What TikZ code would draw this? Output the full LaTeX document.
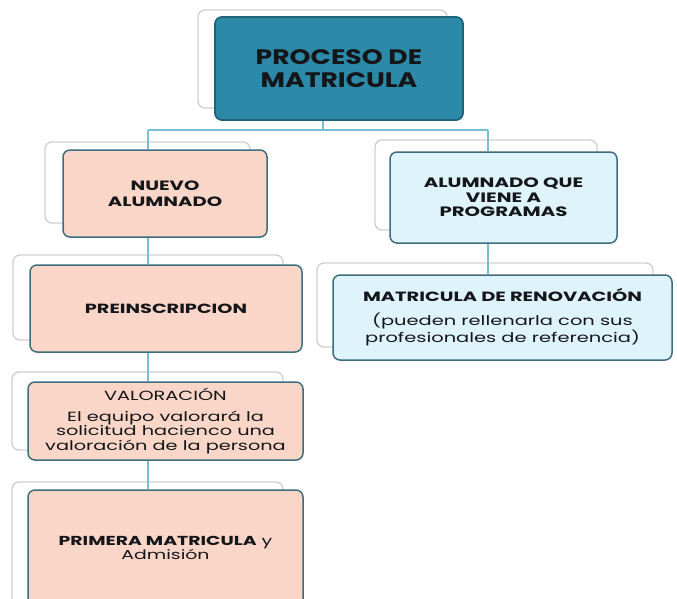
\documentclass[tikz,border=0pt]{standalone}
\usepackage{fontspec}
\setmainfont{Poppins}
\newfontfamily\widefont[FakeStretch=1.45]{Poppins}
\newfontfamily\topfont[FakeStretch=1.27]{Poppins}
\usetikzlibrary{calc}
\definecolor{tealfill}{RGB}{44,138,168}
\definecolor{tealedge}{RGB}{32,98,122}
\definecolor{peach}{RGB}{250,214,200}
\definecolor{lblue}{RGB}{222,243,250}
\definecolor{boxedge}{RGB}{62,110,125}
\definecolor{conn}{RGB}{120,190,215}
\definecolor{txt}{RGB}{20,22,25}
\tikzset{
  backbox/.style={draw=black!18, fill=white, rounded corners=7pt, line width=1.4pt},
  frontbox/.style={draw=boxedge, rounded corners=7pt, line width=1.5pt, align=center, text=txt, inner sep=0pt},
  link/.style={draw=conn, line width=1.5pt},
}
\begin{document}
\begin{tikzpicture}[x=1pt,y=-1pt]
\useasboundingbox (0,0) rectangle (677,599);
\clip (0,0) rectangle (677,599);
% back boxes
\draw[backbox] (198,10) rectangle (447,108);
\draw[backbox] (45,142) rectangle (250,223);
\draw[backbox] (13,255) rectangle (283,340);
\draw[backbox] (12,372) rectangle (283,450);
\draw[backbox] (12,482) rectangle (283,610);
\draw[backbox] (375,140) rectangle (597,230);
\draw[backbox] (317,263) rectangle (653,347);
% trunk coordinates
\coordinate (ttrunk) at (323,130);
\coordinate (ltrunk) at (148,130);
\coordinate (rtrunk) at (488,130);
% front boxes
\node[frontbox, fill=tealfill, draw=tealedge, line width=1.8pt, minimum width=248pt, minimum height=103pt,
      font=\topfont\fontsize{21}{23}\selectfont\bfseries] (top) at (339,68.5) {PROCESO DE\\MATRICULA};
\node[frontbox, fill=peach, minimum width=204pt, minimum height=87pt,
      font=\widefont\fontsize{13.5}{16}\selectfont\bfseries] (nuevo) at (165,193.5) {NUEVO\\ALUMNADO};
\node[frontbox, fill=peach, minimum width=272pt, minimum height=87pt,
      font=\widefont\fontsize{13.3}{16}\selectfont\bfseries] (prein) at (166,308.5) {PREINSCRIPCION};
\node[frontbox, fill=peach, minimum width=275pt, minimum height=78pt,
      font=\widefont\fontsize{13.3}{14.5}\selectfont] (valor) at (165.5,421) {VALORACIÓN\\[6pt]El equipo valorará la\\solicitud hacienco una\\valoración de la persona};
\node[frontbox, fill=peach, minimum width=275pt, minimum height=116pt,
      font=\widefont\fontsize{13}{14}\selectfont] (primera) at (165.5,548) {\textbf{PRIMERA MATRICULA} y\\Admisión};
\node[frontbox, fill=lblue, minimum width=227pt, minimum height=91pt,
      font=\widefont\fontsize{13.6}{14.5}\selectfont\bfseries] (alum) at (503.5,197.5) {ALUMNADO QUE\\VIENE A\\PROGRAMAS};
\node[frontbox, fill=lblue, minimum width=339pt, minimum height=85pt,
      font=\widefont\fontsize{13.4}{14}\selectfont] (renov) at (502.5,317.5) {\textbf{MATRICULA DE RENOVACIÓN}\\[10pt](pueden rellenarla con sus\\profesionales de referencia)};
% connectors
\draw[link] (top.south -| ttrunk) -- (ttrunk);
\draw[link] (ltrunk) -- (rtrunk);
\draw[link] (ltrunk) -- (nuevo.north -| ltrunk);
\draw[link] (rtrunk) -- (alum.north -| rtrunk);
\draw[link] (nuevo.south -| ltrunk) -- (prein.north -| ltrunk);
\draw[link] (prein.south -| ltrunk) -- (valor.north -| ltrunk);
\draw[link] (valor.south -| ltrunk) -- (primera.north -| ltrunk);
\draw[link] (alum.south -| rtrunk) -- (renov.north -| rtrunk);
\end{tikzpicture}
\end{document}
